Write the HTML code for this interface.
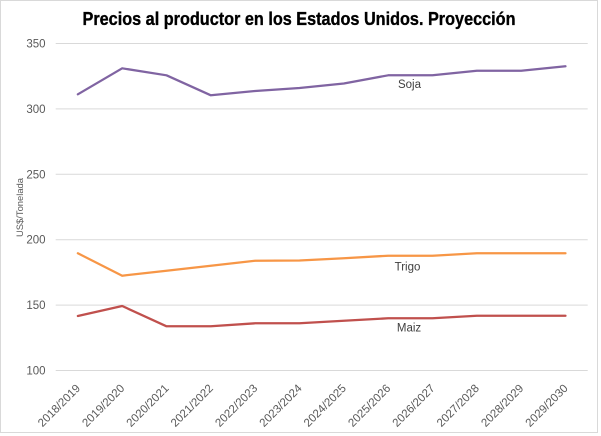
<!DOCTYPE html>
<html>
<head>
<meta charset="utf-8">
<style>
  html,body{margin:0;padding:0;background:#ffffff;}
  svg{display:block;}
</style>
</head>
<body>
<svg width="601" height="436" viewBox="0 0 601 436" xmlns="http://www.w3.org/2000/svg">
  <rect x="0" y="0" width="601" height="436" fill="#ffffff"/>
  <rect x="0.5" y="0.5" width="597" height="432" fill="#ffffff" stroke="#d9d9d9" stroke-width="1"/>

  <!-- Title -->
  <text x="82.5" y="25" font-family="'Liberation Sans Narrow','Liberation Sans',sans-serif" font-weight="bold" font-size="18.5" fill="#000000" stroke="#000" stroke-width="0.35" textLength="433" lengthAdjust="spacingAndGlyphs">Precios al productor en los Estados Unidos. Proyección</text>

  <!-- Gridlines -->
  <g stroke="#d9d9d9" stroke-width="1">
    <line x1="55.7" y1="43.5" x2="587.7" y2="43.5"/>
    <line x1="55.7" y1="108.9" x2="587.7" y2="108.9"/>
    <line x1="55.7" y1="174.3" x2="587.7" y2="174.3"/>
    <line x1="55.7" y1="239.7" x2="587.7" y2="239.7"/>
    <line x1="55.7" y1="305.1" x2="587.7" y2="305.1"/>
    <line x1="55.7" y1="370.5" x2="587.7" y2="370.5"/>
  </g>

  <!-- Y axis labels -->
  <g font-family="'Liberation Sans',sans-serif" font-size="11.5" fill="#595959" text-anchor="end">
    <text x="45.5" y="47.5">350</text>
    <text x="45.5" y="112.9">300</text>
    <text x="45.5" y="178.3">250</text>
    <text x="45.5" y="243.7">200</text>
    <text x="45.5" y="309.1">150</text>
    <text x="45.5" y="374.5">100</text>
  </g>

  <!-- Y axis title -->
  <text transform="translate(23,207.5) rotate(-90)" text-anchor="middle" font-family="'Liberation Sans',sans-serif" font-size="9.5" fill="#595959" textLength="59" lengthAdjust="spacingAndGlyphs">US$/Tonelada</text>

  <!-- Series -->
  <g fill="none" stroke-width="2.25" stroke-linejoin="round" stroke-linecap="round">
    <polyline stroke="#8064A2" points="77.85,94.3 122.18,68.3 166.51,75.3 210.84,95.3 255.17,91 299.5,88 343.83,83.5 388.16,75.3 432.49,75.3 476.82,70.7 521.15,70.7 565.48,66.3"/>
    <polyline stroke="#F79646" points="77.85,253.3 122.18,275.7 166.51,270.7 210.84,265.7 255.17,260.7 299.5,260.5 343.83,258.3 388.16,255.7 432.49,255.7 476.82,253.3 521.15,253.3 565.48,253.3"/>
    <polyline stroke="#C0504D" points="77.85,316 122.18,306 166.51,326.3 210.84,326.3 255.17,323.3 299.5,323.3 343.83,320.7 388.16,318.3 432.49,318.3 476.82,315.7 521.15,315.7 565.48,315.7"/>
  </g>

  <!-- Data labels -->
  <g font-family="'Liberation Sans',sans-serif" font-size="11.5" fill="#404040" text-anchor="middle">
    <text x="409.5" y="87.8">Soja</text>
    <text x="407.5" y="270.5">Trigo</text>
    <text x="409" y="331.3">Maiz</text>
  </g>

  <!-- X axis labels -->
  <g font-family="'Liberation Sans',sans-serif" font-size="11.5" fill="#595959" text-anchor="end">
    <text transform="translate(80.9,389) rotate(-45)">2018/2019</text>
    <text transform="translate(125.2,389) rotate(-45)">2019/2020</text>
    <text transform="translate(169.5,389) rotate(-45)">2020/2021</text>
    <text transform="translate(213.8,389) rotate(-45)">2021/2022</text>
    <text transform="translate(258.2,389) rotate(-45)">2022/2023</text>
    <text transform="translate(302.5,389) rotate(-45)">2023/2024</text>
    <text transform="translate(346.8,389) rotate(-45)">2024/2025</text>
    <text transform="translate(391.2,389) rotate(-45)">2025/2026</text>
    <text transform="translate(435.5,389) rotate(-45)">2026/2027</text>
    <text transform="translate(479.8,389) rotate(-45)">2027/2028</text>
    <text transform="translate(524.2,389) rotate(-45)">2028/2029</text>
    <text transform="translate(568.5,389) rotate(-45)">2029/2030</text>
  </g>
</svg>
</body>
</html>
